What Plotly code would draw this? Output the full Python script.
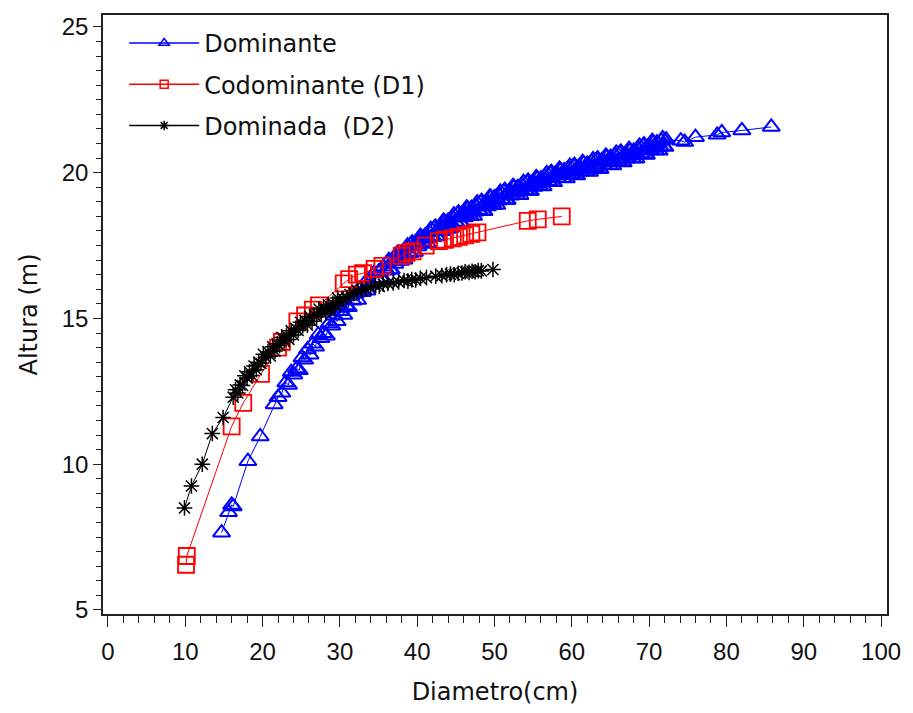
import plotly.graph_objects as go

# Dominante (blue triangles) - main readings
dom_x = [14.7, 15.6, 16.0, 16.2, 18.1, 19.7, 21.5, 22.0, 22.5,
         23.0, 23.35, 23.7, 24.05, 24.4, 24.75, 25.1, 25.45, 25.8, 26.15,
         26.5, 26.85, 27.2, 27.55, 27.9, 28.25, 28.6, 28.95, 29.3, 29.65, 30.0,
         30.2, 30.5, 30.8, 31.1, 31.4, 31.7, 32.0, 32.3, 32.6, 32.9,
         33.2, 33.5, 33.8, 34.1, 34.4, 34.7, 35.0, 35.3, 35.6, 35.9,
         36.2, 36.5, 36.8, 37.1, 37.4, 37.7, 38.0, 38.3, 38.6, 38.9,
         39.2, 39.5, 39.8, 40.1, 40.4, 40.7, 41.0, 41.3, 41.6, 41.9,
         42.2, 42.5, 42.8, 43.1, 43.4, 43.7, 44.0, 44.3, 44.6, 44.9,
         45.2, 45.5, 45.8, 46.1, 46.4, 46.7, 47.0, 47.3, 47.6, 47.9,
         48.2, 48.5, 48.8, 49.1, 49.4, 49.7, 50.0, 50.3, 50.6, 50.9,
         51.2, 51.5, 51.8, 52.1, 52.4, 52.7, 53.0, 53.3, 53.6, 53.9,
         54.2, 54.5, 54.8, 55.1, 55.4, 55.7, 56.0, 56.3, 56.6, 56.9,
         57.2, 57.5, 57.8, 58.1, 58.4, 58.7, 59.0, 59.3, 59.6, 59.9,
         60.2, 60.5, 60.8, 61.1, 61.4, 61.7, 62.0, 62.3, 62.6, 62.9,
         63.2, 63.5, 63.8, 64.1, 64.4, 64.7, 65.0, 65.3, 65.6, 65.9,
         66.2, 66.5, 66.8, 67.1, 67.4, 67.7, 68.0, 68.3, 68.6, 68.9,
         69.2, 69.5, 69.8, 70.1, 70.4, 70.7, 71.0, 71.3, 71.6, 71.9, 72.2,
         74.1, 74.6, 76.0, 78.8, 79.4, 82.0, 85.8]
dom_y = [7.65, 8.35, 8.6, 8.55, 10.1, 10.95, 12.05, 12.3, 12.45,
         12.8, 12.72, 13.16, 13.07, 13.28, 13.22, 13.66, 13.58, 13.93, 13.75,
         14.13, 14.03, 14.44, 14.32, 14.49, 14.41, 14.83, 14.75, 15.09, 14.9, 15.25,
         15.36, 15.12, 15.44, 15.38, 15.77, 15.61, 15.85, 15.63, 16.02, 15.90,
         16.2, 15.95, 16.25, 16.18, 16.55, 16.38, 16.6, 16.38, 16.77, 16.65,
         16.94, 16.67, 16.96, 16.87, 17.23, 17.04, 17.25, 17.01, 17.39, 17.25,
         17.54, 17.27, 17.56, 17.47, 17.82, 17.62, 17.83, 17.58, 17.95, 17.8,
         18.09, 17.81, 18.09, 17.99, 18.35, 18.15, 18.35, 18.1, 18.46, 18.31,
         18.58, 18.3, 18.57, 18.46, 18.8, 18.59, 18.78, 18.51, 18.87, 18.71,
         18.98, 18.68, 18.95, 18.84, 19.18, 18.96, 19.15, 18.89, 19.25, 19.08,
         19.35, 19.06, 19.33, 19.21, 19.54, 19.32, 19.5, 19.23, 19.58, 19.41,
         19.67, 19.37, 19.63, 19.51, 19.84, 19.62, 19.8, 19.53, 19.88, 19.71,
         19.97, 19.67, 19.93, 19.81, 20.13, 19.9, 20.08, 19.8, 20.14, 19.96,
         20.22, 19.91, 20.16, 20.03, 20.36, 20.13, 20.3, 20.02, 20.37, 20.19,
         20.44, 20.13, 20.39, 20.26, 20.58, 20.35, 20.53, 20.25, 20.59, 20.41,
         20.67, 20.36, 20.61, 20.48, 20.81, 20.58, 20.75, 20.48, 20.83, 20.66,
         20.92, 20.62, 20.88, 20.76, 21.08, 20.85, 21.03, 20.75, 21.09, 20.91, 21.13,
         21.1, 21.05, 21.22, 21.3, 21.38, 21.45, 21.57]

# Dominante - further readings in the dense part of the band
dom_x_extra = [36.05, 36.35, 36.65, 36.95, 37.25, 37.55, 37.85, 38.15, 38.45, 38.75,
               39.05, 39.35, 39.65, 39.95, 40.25, 40.55, 40.85, 41.15, 41.45, 41.75,
               42.05, 42.35, 42.65, 42.95, 43.25, 43.55, 43.85, 44.15, 44.45, 44.75,
               45.05, 45.35, 45.65, 45.95, 46.25, 46.55, 46.85, 47.15, 47.45, 47.75,
               48.05, 48.35, 48.65, 48.95, 49.25, 49.55, 49.85, 50.15, 50.45, 50.75,
               51.05, 51.35, 51.65, 51.95, 52.25, 52.55, 52.85, 53.15, 53.45, 53.75,
               54.05, 54.35, 54.65, 54.95, 55.25, 55.55, 55.85, 56.15, 56.45, 56.75,
               57.05, 57.35, 57.65, 57.95, 58.25, 58.55, 58.85, 59.15, 59.45, 59.75,
               60.05, 60.35, 60.65, 60.95, 61.25, 61.55, 61.85, 62.15, 62.45, 62.75,
               63.05, 63.35, 63.65, 63.95, 64.25, 64.55, 64.85, 65.15, 65.45, 65.75,
               66.05, 66.35, 66.65, 66.95, 67.25, 67.55, 67.85, 68.15, 68.45, 68.75,
               69.05, 69.35, 69.65, 69.95, 70.25, 70.55, 70.85, 71.15, 71.45, 71.75,
               72.05]
dom_y_extra = [16.64, 17.0, 16.68, 17.02, 16.98, 17.2, 16.97, 17.23, 17.17, 17.5,
               17.24, 17.6, 17.28, 17.62, 17.57, 17.79, 17.55, 17.8, 17.73, 18.06,
               17.79, 18.14, 17.81, 18.15, 18.1, 18.31, 18.07, 18.32, 18.25, 18.56,
               18.29, 18.63, 18.3, 18.62, 18.56, 18.76, 18.51, 18.74, 18.66, 18.97,
               18.69, 19.02, 18.68, 19.0, 18.94, 19.14, 18.88, 19.12, 19.04, 19.34,
               19.06, 19.4, 19.06, 19.37, 19.31, 19.5, 19.24, 19.47, 19.38, 19.68,
               19.39, 19.72, 19.37, 19.68, 19.61, 19.8, 19.54, 19.77, 19.68, 19.98,
               19.69, 20.02, 19.67, 19.98, 19.9, 20.08, 19.81, 20.04, 19.94, 20.23,
               19.93, 20.26, 19.9, 20.2, 20.12, 20.31, 20.04, 20.26, 20.16, 20.46,
               20.16, 20.48, 20.12, 20.43, 20.35, 20.53, 20.26, 20.49, 20.39, 20.68,
               20.38, 20.71, 20.35, 20.65, 20.57, 20.76, 20.49, 20.71, 20.62, 20.92,
               20.63, 20.96, 20.61, 20.92, 20.85, 21.03, 20.76, 20.99, 20.89, 21.18,
               20.88]

# Codominante (D1) (red squares)
cod_x = [10.1, 10.2, 16.0, 17.5, 19.8, 22.0, 22.5, 24.5, 25.5, 26.5,
         27.3, 30.5, 31.2, 32.2, 33.0, 34.5, 35.5, 38.0, 38.6, 39.4,
         41.1, 42.8, 43.6, 44.6, 45.4, 46.2, 47.0, 47.8, 54.3, 55.6, 58.7]
cod_y = [6.55, 6.85, 11.3, 12.1, 13.1, 14.0, 14.2, 14.9, 15.1, 15.3,
         15.45, 16.2, 16.35, 16.5, 16.55, 16.7, 16.8, 17.15, 17.25, 17.3,
         17.5, 17.65, 17.7, 17.75, 17.8, 17.85, 17.9, 17.95, 18.35, 18.4, 18.5]

# Dominada (D2) (black asterisks)
dmd_x = [9.9, 10.8, 12.2, 13.5, 14.9, 16.2,
         16.5, 16.8, 17.1, 17.4, 17.7, 18.0, 18.3, 18.6, 18.9, 19.2,
         19.5, 19.8, 20.1, 20.4, 20.7, 21.0, 21.3, 21.6, 21.9, 22.2,
         22.5, 22.8, 23.1, 23.4, 23.7, 24.0, 24.3, 24.6, 24.9, 25.2,
         25.5, 25.8, 26.1, 26.4, 26.7, 27.0, 27.3, 27.6, 27.9, 28.2,
         28.5, 28.8, 29.1, 29.4, 29.7, 30.0,
         30.4, 30.9, 31.3, 31.8, 32.3, 32.8, 33.4, 34.0, 34.6, 35.1,
         35.6, 36.2, 36.9, 37.6, 38.3, 38.8, 39.3, 39.8, 40.4, 41.2,
         42.4, 43.2, 43.8, 44.3, 44.8, 45.3, 45.8, 46.2, 46.7, 47.1,
         47.5, 47.9, 48.3, 49.8]
dmd_y = [8.5, 9.25, 10.0, 11.05, 11.6, 12.3,
         12.55, 12.44, 12.72, 12.7, 13.03, 12.96, 13.17, 13.04, 13.37, 13.24,
         13.5, 13.46, 13.77, 13.66, 13.86, 13.71, 14.03, 13.88, 14.13, 14.07,
         14.35, 14.24, 14.43, 14.28, 14.58, 14.43, 14.66, 14.59, 14.87, 14.75,
         14.93, 14.77, 15.07, 14.9, 15.12, 15.05, 15.32, 15.19, 15.36, 15.19,
         15.48, 15.3, 15.52, 15.43, 15.7, 15.56,
         15.68, 15.72, 15.82, 15.85, 15.95, 15.98, 16.0, 16.08, 16.12, 16.1,
         16.18, 16.2, 16.22, 16.25, 16.3, 16.28, 16.33, 16.32, 16.38, 16.4,
         16.45, 16.47, 16.5, 16.52, 16.5, 16.55, 16.56, 16.6, 16.58, 16.62,
         16.6, 16.64, 16.63, 16.68]

x_ticks = [0, 10, 20, 30, 40, 50, 60, 70, 80, 90, 100]
y_ticks = [5, 10, 15, 20, 25]

# the joining line follows increasing diameter
dom_pairs = sorted(zip(dom_x + dom_x_extra, dom_y + dom_y_extra))
dom_all_x = [p[0] for p in dom_pairs]
dom_all_y = [p[1] for p in dom_pairs]

series = [
    ('Dominante', dom_all_x, dom_all_y, '#0000FF', 'triangle-up-open', 15, 2, 9),
    ('Codominante (D1)', cod_x, cod_y, '#FF0000', 'square-open', 16, 1.8, 8),
    ('Dominada  (D2)', dmd_x, dmd_y, '#000000', 'asterisk-open', 13, 1.5, 8),
]

fig = go.Figure()
for name, xs, ys, col, sym, sz, lw, lsz in series:
    fig.add_trace(go.Scatter(
        x=xs, y=ys, mode='lines+markers', name=name, showlegend=False,
        line=dict(color=col, width=1),
        marker=dict(symbol=sym, size=sz, color=col, line=dict(color=col, width=lw))))
for i, (name, xs, ys, col, sym, sz, lw, lsz) in enumerate(series):
    # legend-only entry (smaller symbol, like the original key)
    fig.add_trace(go.Scatter(
        x=[None], y=[None], mode='lines+markers', name=name, legendgroup=str(i),
        line=dict(color=col, width=1.5),
        marker=dict(symbol=sym, size=lsz, color=col, line=dict(color=col, width=1.5))))

tickfont = dict(family='Liberation Sans, Arial, sans-serif', size=24, color='#111111')
titlefont = dict(family='DejaVu Sans, sans-serif', size=24, color='#111111')

fig.update_layout(
    width=913, height=713,
    margin=dict(l=103, r=16, t=15, b=99),
    plot_bgcolor='white', paper_bgcolor='white',
    showlegend=True,
    legend=dict(x=0.027, y=0.99, xanchor='left', yanchor='top',
                font=titlefont, bgcolor='rgba(0,0,0,0)',
                tracegroupgap=7, itemwidth=70, traceorder='grouped'),
)
fig.update_xaxes(
    range=[-0.64, 100.77], tickmode='array', tickvals=x_ticks,
    ticktext=[str(v) for v in x_ticks],
    ticks='outside', ticklen=11, tickwidth=1, tickcolor='#222222',
    minor=dict(ticks='outside', ticklen=7, tick0=0, dtick=2, tickcolor='#222222', showgrid=False),
    showline=True, mirror=True, linecolor='#222222', linewidth=1.5,
    showgrid=False, zeroline=False, tickfont=tickfont, ticklabelstandoff=4,
    title=dict(text='Diametro(cm)', font=titlefont, standoff=20))
fig.update_yaxes(
    range=[4.86, 25.41], tickmode='array', tickvals=y_ticks,
    ticktext=[str(v) for v in y_ticks],
    ticks='outside', ticklen=8, tickwidth=1, tickcolor='#222222',
    minor=dict(ticks='outside', ticklen=5, tick0=0, dtick=0.5, tickcolor='#222222', showgrid=False),
    showline=True, mirror=True, linecolor='#222222', linewidth=1.5,
    showgrid=False, zeroline=False, tickfont=tickfont,
    title=dict(text='Altura (m)', font=titlefont, standoff=17))

fig.write_html('out.html')
